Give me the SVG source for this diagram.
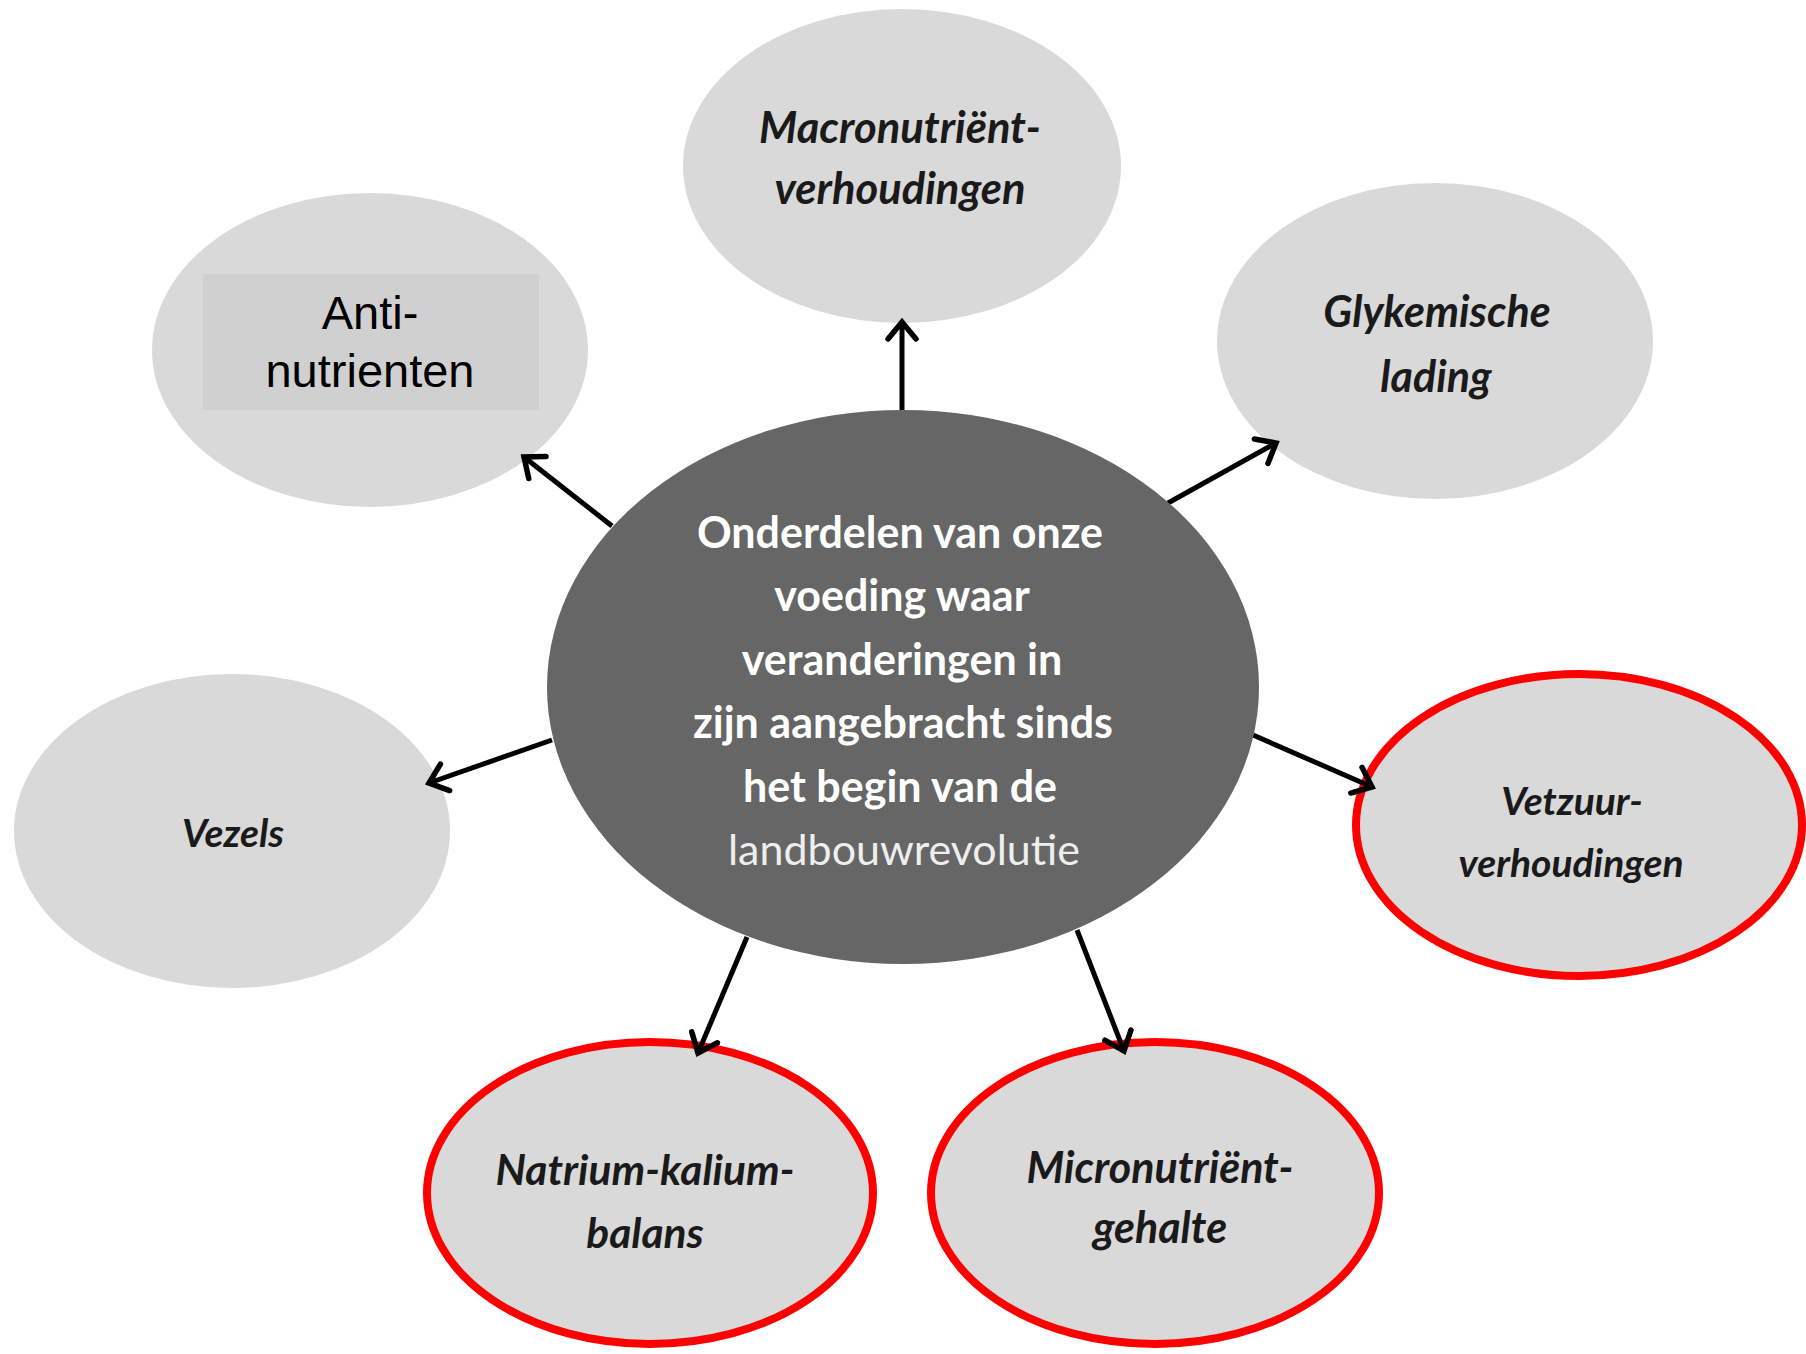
<svg xmlns="http://www.w3.org/2000/svg" width="1806" height="1354" viewBox="0 0 1806 1354">
  <style>
    .sat { fill: #d9d9d9; }
    .hl { fill: #d9d9d9; stroke: #ff0000; stroke-width: 8; }
    .lbl { font-family: Lato, "Liberation Sans", sans-serif; font-style: italic; font-weight: bold; fill: #1a1a1a; text-anchor: middle; }
    .ctr { font-family: Lato, "Liberation Sans", sans-serif; font-weight: bold; fill: #ffffff; text-anchor: middle; font-size: 43px; }
    .ctr2 { font-family: Lato, "Liberation Sans", sans-serif; font-weight: normal; fill: #eeeeee; text-anchor: middle; font-size: 43px; }
    .conn { stroke: #000000; stroke-width: 5; fill: none; marker-end: url(#arrow); }
  </style>
  <defs>
    <marker id="arrow" markerUnits="userSpaceOnUse" markerWidth="34" markerHeight="34" viewBox="0 0 34 34" refX="25" refY="17" orient="auto">
      <path d="M8,3 L25,17 L8,31" fill="none" stroke="#000000" stroke-width="5.5" stroke-linecap="round" stroke-linejoin="miter"/>
    </marker>
  </defs>
  <rect x="0" y="0" width="1806" height="1354" fill="#ffffff"/>

  <g id="node-macronutrient">
    <ellipse class="sat" cx="902" cy="166" rx="219" ry="157"/>
    <text class="lbl" font-size="43.5" x="900" y="143">Macronutriënt-</text>
    <text class="lbl" font-size="43.5" x="900" y="204">verhoudingen</text>
  </g>

  <g id="node-antinutrienten">
    <ellipse class="sat" cx="370" cy="350" rx="218" ry="157"/>
    <rect x="203" y="274" width="336" height="136" fill="#d0d0d0"/>
    <text x="370" y="329" font-family="'Liberation Sans', Arial, sans-serif" font-size="47" fill="#000000" text-anchor="middle">Anti-</text>
    <text x="370" y="387" font-family="'Liberation Sans', Arial, sans-serif" font-size="47" fill="#000000" text-anchor="middle">nutrienten</text>
  </g>

  <g id="node-glykemische">
    <ellipse class="sat" cx="1435" cy="341" rx="218" ry="158"/>
    <text class="lbl" font-size="43" x="1437" y="327">Glykemische</text>
    <text class="lbl" font-size="43" x="1436" y="392">lading</text>
  </g>

  <g id="node-vezels">
    <ellipse class="sat" cx="232" cy="831" rx="218" ry="157"/>
    <text class="lbl" font-size="39" x="233" y="847">Vezels</text>
  </g>

  <g id="node-vetzuur">
    <ellipse class="hl" cx="1579" cy="825" rx="223" ry="151"/>
    <text class="lbl" font-size="39" x="1572" y="815">Vetzuur-</text>
    <text class="lbl" font-size="39" x="1571" y="877">verhoudingen</text>
  </g>

  <g id="node-natrium">
    <ellipse class="hl" cx="650" cy="1193" rx="223" ry="151"/>
    <text class="lbl" font-size="42.5" x="645" y="1185">Natrium-kalium-</text>
    <text class="lbl" font-size="42.5" x="645" y="1248">balans</text>
  </g>

  <g id="node-micronutrient">
    <ellipse class="hl" cx="1155" cy="1193" rx="224" ry="151"/>
    <text class="lbl" font-size="43" x="1160" y="1183">Micronutriënt-</text>
    <text class="lbl" font-size="43" x="1160" y="1243">gehalte</text>
  </g>

  <g id="connectors">
    <line class="conn" x1="902" y1="410" x2="902" y2="322"/>
    <line class="conn" x1="612" y1="526" x2="524" y2="457"/>
    <line class="conn" x1="1168" y1="503" x2="1276" y2="443"/>
    <line class="conn" x1="552" y1="740" x2="429" y2="783"/>
    <line class="conn" x1="1253" y1="735" x2="1372" y2="787"/>
    <line class="conn" x1="747" y1="937" x2="698" y2="1053"/>
    <line class="conn" x1="1077" y1="930" x2="1124" y2="1051"/>
  </g>

  <g id="node-center">
    <ellipse cx="903" cy="687" rx="356" ry="277" fill="#666666"/>
    <text class="ctr" x="900" y="547.5">Onderdelen van onze</text>
    <text class="ctr" x="902" y="611">voeding waar</text>
    <text class="ctr" x="902" y="674.5">veranderingen in</text>
    <text class="ctr" x="903" y="738">zijn aangebracht sinds</text>
    <text class="ctr" x="900" y="801.5">het begin van de</text>
    <text class="ctr2" x="904" y="865">landbouwrevolutie</text>
  </g>
</svg>
